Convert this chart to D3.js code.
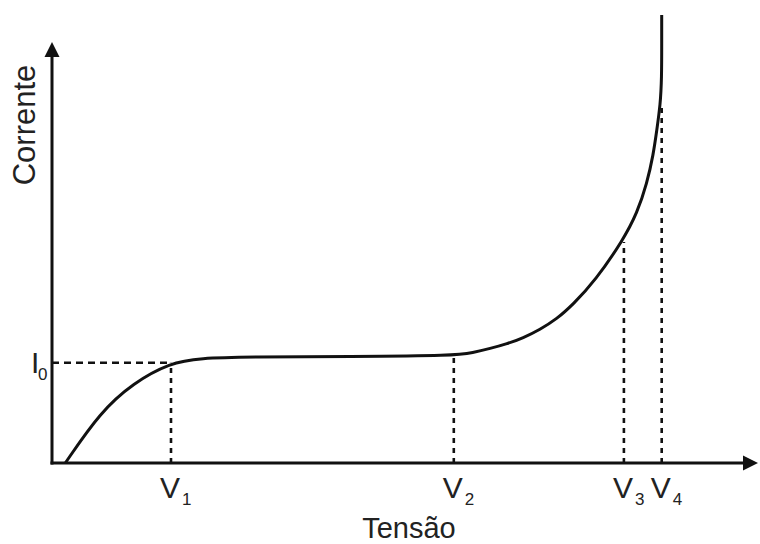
<!DOCTYPE html>
<html>
<head>
<meta charset="utf-8">
<script src="https://cdn.jsdelivr.net/npm/d3@7"></script>
<style>
  html, body { margin: 0; padding: 0; background: #fff; }
  svg { display: block; }
  text { font-family: "Liberation Sans", Arial, Helvetica, sans-serif; fill: #222; }
</style>
</head>
<body>
<svg id="chart" width="760" height="544"></svg>
<script>
// Curve data (Tensão vs Corrente, arbitrary units)
const voltage = [0.19, 0.69, 1.16, 1.69, 2.11, 2.83, 4.26, 5.76, 6.01, 6.26, 6.50, 6.73, 6.97, 7.21, 7.44, 7.76, 8.16, 8.36, 8.50, 8.59, 8.64, 8.69, 8.71, 8.71, 8.71];
const current = [0.00, 1.21, 1.90, 2.38, 2.49, 2.52, 2.53, 2.55, 2.62, 2.72, 2.83, 2.97, 3.17, 3.42, 3.76, 4.33, 5.30, 5.94, 6.65, 7.32, 7.91, 8.50, 9.15, 10.0, 10.64];

// Reference marks
const markLabels = ["1", "2", "3", "4"];
const markVoltage = [1.70, 5.74, 8.17, 8.71];
const markCurrent = [2.38, 2.55, 5.25, 8.43];
const i0Value = 2.38;

const svg = d3.select("#chart");
const x = d3.scaleLinear().domain([0, 10]).range([52, 752]);
const y = d3.scaleLinear().domain([0, 10]).range([463, 42]);

const ink = "#111";

// dashed guide lines
markVoltage.forEach((v, i) => {
  svg.append("line")
    .attr("x1", x(v)).attr("x2", x(v))
    .attr("y1", y(0)).attr("y2", y(markCurrent[i]))
    .attr("stroke", ink).attr("stroke-width", 2.6)
    .attr("stroke-dasharray", "5,5");
});
svg.append("line")
  .attr("x1", x(0)).attr("x2", x(markVoltage[0]))
  .attr("y1", y(i0Value)).attr("y2", y(i0Value))
  .attr("stroke", ink).attr("stroke-width", 2.6)
  .attr("stroke-dasharray", "7,5");

// axes
svg.append("line").attr("x1", x(0)).attr("x2", x(0))
  .attr("y1", y(0) + 1.5).attr("y2", 56)
  .attr("stroke", ink).attr("stroke-width", 3);
svg.append("line").attr("x1", x(0) - 1.5).attr("x2", 745)
  .attr("y1", y(0)).attr("y2", y(0))
  .attr("stroke", ink).attr("stroke-width", 3);
// arrow heads
svg.append("path")
  .attr("d", `M${x(0)},42 L${x(0) - 7.5},57 L${x(0) + 7.5},57 Z`)
  .attr("fill", ink);
svg.append("path")
  .attr("d", `M758,${y(0)} L743,${y(0) - 7.5} L743,${y(0) + 7.5} Z`)
  .attr("fill", ink);

// curve
const pts = voltage.map((v, i) => [v, current[i]]);
const line = d3.line()
  .x(d => x(d[0])).y(d => y(d[1]))
  .curve(d3.curveBasis);
svg.append("path").datum(pts)
  .attr("d", line)
  .attr("fill", "none")
  .attr("stroke", ink)
  .attr("stroke-width", 3)
  .attr("stroke-linejoin", "round");

// V labels
markVoltage.forEach((v, i) => {
  svg.append("text")
    .attr("x", x(v) - 1).attr("y", 498)
    .attr("text-anchor", "middle")
    .attr("font-size", 30)
    .text("V");
  svg.append("text")
    .attr("x", x(v) + 11).attr("y", 505)
    .attr("text-anchor", "start")
    .attr("font-size", 17)
    .text(markLabels[i]);
});

// I0 label
svg.append("text").attr("x", 31).attr("y", 373)
  .attr("font-size", 30).text("I");
svg.append("text").attr("x", 38).attr("y", 380)
  .attr("font-size", 17).text("0");

// axis titles
svg.append("text")
  .attr("x", 409).attr("y", 538)
  .attr("text-anchor", "middle")
  .attr("font-size", 29)
  .text("Tensão");
svg.append("text")
  .attr("transform", "translate(35,125) rotate(-90)")
  .attr("text-anchor", "middle")
  .attr("font-size", 31)
  .text("Corrente");
</script>
</body>
</html>
